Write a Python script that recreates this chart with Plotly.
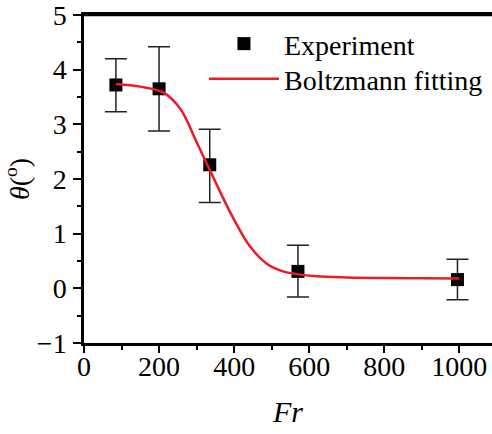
import plotly.graph_objects as go

# Experimental data
fr_exp = [85, 200, 335, 570, 995]
theta_exp = [3.72, 3.65, 2.26, 0.31, 0.16]
err_plus = [0.48, 0.77, 0.65, 0.48, 0.37]
err_minus = [0.49, 0.77, 0.69, 0.47, 0.37]

# Boltzmann fitting curve
fr_fit = [85, 150, 212, 257, 301, 341, 370, 398, 443, 487, 530, 567, 620, 700, 800, 900, 1000]
theta_fit = [3.74, 3.69, 3.58, 3.28, 2.66, 2.08, 1.66, 1.28, 0.76, 0.45, 0.31, 0.26, 0.22, 0.20, 0.19, 0.185, 0.18]

FONT = "Liberation Serif"

fig = go.Figure()
fig.add_trace(go.Scatter(
    x=fr_exp, y=theta_exp, mode="markers", name="Experiment",
    marker=dict(symbol="square", size=13, color="black"),
    error_y=dict(type="data", array=err_plus, arrayminus=err_minus,
                 color="#222222", thickness=1.5, width=11),
    legend="legend",
))
fig.add_trace(go.Scatter(
    x=fr_fit, y=theta_fit, mode="lines", name="Boltzmann fitting",
    line=dict(color="rgb(237,28,36)", width=2.5, shape="spline"),
    legend="legend2",
))

axis_common = dict(
    showgrid=False, zeroline=False, showline=True, linecolor="black", linewidth=2.5,
    ticks="outside", tickwidth=2, tickcolor="black",
    tickfont=dict(family=FONT, size=28, color="black"),
    ticklabeloverflow="allow",
)
fig.update_xaxes(
    range=[0, 1087], tickvals=[0, 200, 400, 600, 800, 1000], mirror=True,
    ticklen=7, ticklabelstandoff=-10,
    minor=dict(dtick=100, ticks="outside", ticklen=4, tickwidth=2, tickcolor="black"),
    title=dict(text="<i>Fr</i>", font=dict(family=FONT, size=30, color="black"), standoff=20),
    **axis_common,
)
fig.update_yaxes(
    range=[-1, 5], tickvals=[-1, 0, 1, 2, 3, 4, 5],
    ticklen=8, ticklabelstandoff=1,
    minor=dict(dtick=0.5, ticks="outside", ticklen=4, tickwidth=2, tickcolor="black"),
    title=dict(text="<i>θ</i>(<sup>o</sup>)", font=dict(family=FONT, size=28, color="black"), standoff=0),
    **axis_common,
)
# top frame line
fig.add_shape(type="line", xref="paper", yref="paper", x0=0, x1=1, y0=1, y1=1,
              line=dict(color="black", width=2.5), layer="above")

legend_common = dict(xanchor="left", yanchor="top",
                     font=dict(family=FONT, size=28, color="black"),
                     bgcolor="rgba(0,0,0,0)", itemwidth=70, tracegroupgap=0)
fig.update_layout(
    width=492, height=434,
    margin=dict(l=84, r=0, t=15, b=91),
    plot_bgcolor="white", paper_bgcolor="white",
    legend=dict(x=0.294, y=0.988, **legend_common),
    legend2=dict(x=0.294, y=0.881, **legend_common),
    showlegend=True,
)
fig.write_html("out.html")
